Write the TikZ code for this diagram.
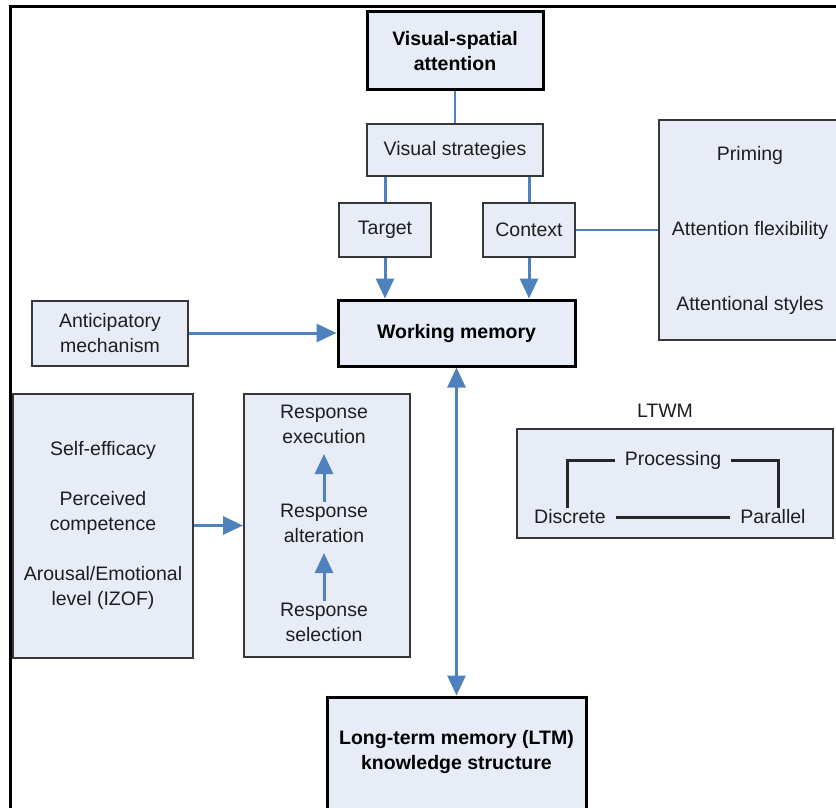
\documentclass[tikz,border=0pt]{standalone}
\usepackage{fontspec}
\setmainfont{Liberation Sans}
\usetikzlibrary{arrows.meta}
\definecolor{boxfill}{RGB}{231,236,247}
\definecolor{linkblue}{RGB}{79,129,189}
\definecolor{boxline}{RGB}{55,55,55}
\definecolor{txt}{RGB}{30,30,30}
\tikzset{
  box/.style={draw=boxline, line width=2pt, fill=boxfill, align=center, text=txt,
    inner sep=2pt, font=\fontsize{19.5}{25}\selectfont},
  mainbox/.style={box, draw=black, line width=3pt, text=black,
    font=\bfseries\fontsize{19.5}{25}\selectfont},
  plain/.style={align=center, text=txt, inner sep=2pt, font=\fontsize{19.5}{25}\selectfont},
  link/.style={draw=linkblue, line width=3pt},
  thinlink/.style={draw=linkblue, line width=2pt},
  arrow/.style={link, -{Triangle[length=20pt,width=18pt]}},
  twoway/.style={link, {Triangle[length=20pt,width=18pt]}-{Triangle[length=20pt,width=18pt]}},
  bracket/.style={draw=black!85, line width=3pt},
  frame/.style={draw=black, line width=3pt}
}
\begin{document}
\begin{tikzpicture}[x=1pt, y=-1pt]
\useasboundingbox (0,0) rectangle (836,808);
\draw[frame] (10,830) |- (850,7);

\node[mainbox, minimum width=176pt, minimum height=78pt] (vsa) at (455,51) {Visual-spatial\\attention};
\node[box, minimum width=176pt, minimum height=52pt] (strat) at (455,150) {Visual strategies};
\node[box, minimum width=92pt, minimum height=54pt] (target) at (385,230) {Target};
\node[box, minimum width=92pt, minimum height=54pt] (context) at (529,230) {Context};
\node[box, minimum width=182pt, minimum height=220pt] (attn) at (750,230) {Priming\\[50pt]Attention flexibility\\[50pt]Attentional styles};
\node[mainbox, minimum width=237pt, minimum height=66pt] (wm) at (456.5,333) {Working memory};
\node[box, minimum width=156pt, minimum height=65pt] (antic) at (110,333) {Anticipatory\\mechanism};
\node[box, minimum width=180pt, minimum height=264pt] (affect) at (103,525.5) {Self-efficacy\\[25pt]Perceived\\competence\\[25pt]Arousal/Emotional\\level (IZOF)};
\node[box, minimum width=166pt, minimum height=263pt] (resp) at (327,525.5) {};
\node[plain] (exec) at (324,424.5) {Response\\execution};
\node[plain] (alter) at (324,523.5) {Response\\alteration};
\node[plain] (select) at (324,622.5) {Response\\selection};
\node[plain] (ltwmtitle) at (665,411) {LTWM};
\node[box, minimum width=316pt, minimum height=109pt] (ltwm) at (675,483.5) {};
\node[plain, inner xsep=10pt] (proc) at (673,460) {Processing};
\node[plain, inner xsep=10pt] (discrete) at (570,517) {Discrete};
\node[plain, inner xsep=10pt] (parallel) at (773,517) {Parallel};
\node[mainbox, minimum width=259pt, minimum height=130pt] (ltm) at (456.5,762) {};
\node[plain, text=black, font=\bfseries\fontsize{19.5}{25}\selectfont] (ltmtext) at (456.5,752) {Long-term memory (LTM)\\knowledge structure};

\path[draw,thinlink] (vsa) -- (strat);
\path[draw,link] (strat.south -| target) -- (target);
\path[draw,link] (strat.south -| context) -- (context);
\path[draw,arrow] (target) -- (wm.north -| target);
\path[draw,arrow] (context) -- (wm.north -| context);
\path[draw,thinlink] (context) -- (attn);
\path[draw,arrow] (antic) -- (wm);
\path[draw,arrow] (affect) -- (resp);
\path[draw,arrow,shorten >=8pt] (select) -- (alter);
\path[draw,arrow,shorten >=8pt] (alter) -- (exec);
\path[draw,twoway] (wm) -- (ltm);
\path[draw,bracket] ([xshift=-3pt]discrete.north) |- (proc);
\path[draw,bracket] (proc) -| ([xshift=5pt]parallel.north);
\path[draw,bracket] (discrete) -- (parallel);
\end{tikzpicture}
\end{document}
